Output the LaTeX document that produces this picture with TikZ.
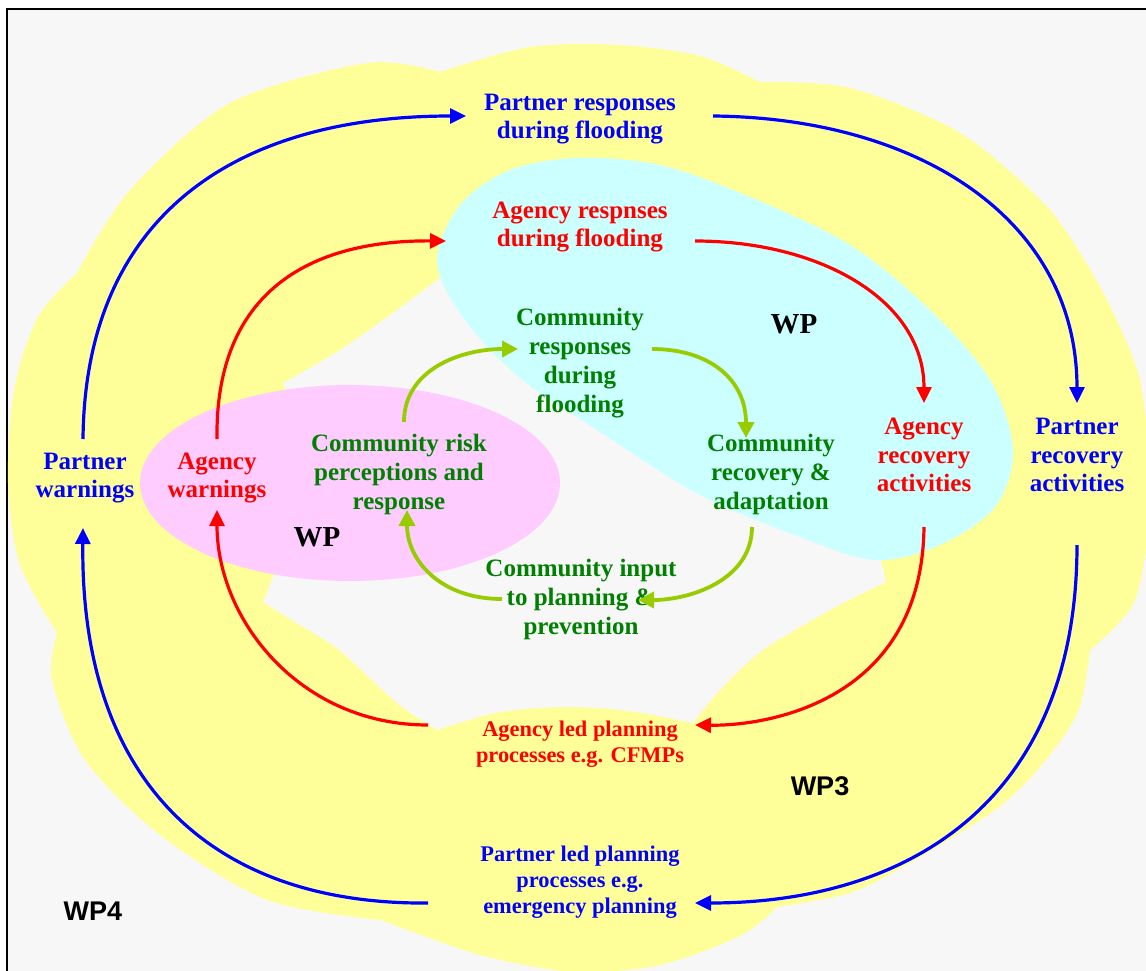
\documentclass[tikz,border=0pt]{standalone}
\usepackage{fontspec}
\setmainfont{Liberation Serif}
\newfontfamily\arialf{Liberation Sans}
\usetikzlibrary{arrows.meta,calc}
\definecolor{yel}{HTML}{FFFF99}
\definecolor{cyn}{HTML}{CCFFFF}
\definecolor{pnk}{HTML}{FFCCFF}
\definecolor{bgc}{HTML}{F7F7F7}
\definecolor{gtext}{HTML}{008000}
\definecolor{garrow}{HTML}{99CC00}
\definecolor{bl}{HTML}{0000FF}
\definecolor{rd}{HTML}{FF0000}
\begin{document}
\begin{tikzpicture}[x=1pt,y=-1pt,
  lbl/.style={align=center, font=\fontsize{25}{28.5}\selectfont\bfseries, inner sep=1pt},
  clbl/.style={align=center, font=\fontsize{25}{29}\selectfont\bfseries, inner sep=1pt, text=gtext},
  smalllbl/.style={align=center, font=\fontsize{22.4}{26}\selectfont\bfseries, inner sep=1pt},
  wpserif/.style={font=\fontsize{29}{32}\selectfont\bfseries, inner sep=0pt},
  wpsans/.style={font=\fontsize{27}{30}\selectfont\arialf\bfseries, inner sep=0pt},
  bluearr/.style={draw=bl, line width=3.2pt, -{Triangle[length=16pt,width=15pt]}},
  redarr/.style={draw=rd, line width=3.2pt, -{Triangle[length=16pt,width=15pt]}},
  greenarr/.style={draw=garrow, line width=3.8pt, -{Triangle[length=16pt,width=16pt]}},
  lobe/.style={smooth,tension=0.5}]
\useasboundingbox (0,0) rectangle (1146,971);
\clip (0,0) rectangle (1146,971);
\fill[white] (0,0) rectangle (1146,971);
\draw[fill=bgc, line width=1.6pt, draw=black] (7,9) rectangle (1170,1000);

% yellow cloud (WP3 / WP4)
\fill[yel] plot[lobe] coordinates {(77,273) (130,190) (230,103) (367,63) (440,72)}
 -- plot[lobe] coordinates {(440,72) (530,47) (620,45) (700,56) (760,82)}
 -- plot[lobe] coordinates {(760,82) (850,88) (960,133) (1050,210) (1103,292)}
 -- plot[lobe] coordinates {(1103,292) (1140,380) (1150,500) (1135,600) (1090,650)}
 -- plot[lobe] coordinates {(1090,650) (1078,712) (1040,767) (995,810) (910,863) (850,893) (777,907)}
 -- plot[lobe] coordinates {(777,907) (740,936) (660,965) (574,972) (480,955) (381,920)}
 -- plot[lobe] coordinates {(381,920) (267,900) (160,835) (85,760) (52,680) (57,633)}
 -- plot[lobe] coordinates {(57,633) (20,565) (8,483) (14,390) (38,317) (77,273)}
 -- cycle;

% grey hole in the middle
\fill[bgc] plot[lobe] coordinates {(283,383) (340,350) (397,310) (437,280)}
 -- (480,262) -- (700,400) -- (870,540)
 -- (880,556) -- (886,582)
 -- plot[lobe] coordinates {(886,582) (830,610) (763,650) (720,690) (693,723)}
 -- plot[lobe] coordinates {(693,723) (630,711) (567,707) (500,712) (437,730)}
 -- plot[lobe] coordinates {(437,730) (397,703) (339,650) (295,622) (263,602)}
 -- (273,577) -- (320,480) -- cycle;

% pink ellipse
\fill[pnk] (350,483) ellipse [x radius=210, y radius=98];
% cyan ellipse
\fill[cyn] plot[smooth cycle,tension=0.55] coordinates {(437,262) (460,205) (510,170) (577,158) (660,165) (750,197) (850,245) (930,310) (990,380) (1013,450) (995,507) (940,545) (875,560) (800,537) (700,495) (600,432) (520,378) (465,320)};

% labels
\node[lbl, text=bl] (prf) at (580,119) {Partner responses\\during flooding};
\node[lbl, text=rd] (arf) at (580,227) {Agency respnses\\during flooding};
\node[clbl] (crf) at (580,363) {Community\\responses\\during\\flooding};
\node[clbl] (crp) at (399,474) {Community risk\\perceptions and\\response};
\node[lbl, text=rd] (aw) at (217,478) {Agency\\warnings};
\node[lbl, text=bl] (pw) at (85,478) {Partner\\warnings};
\node[clbl] (cra) at (771,474) {Community\\recovery \&\\adaptation};
\node[lbl, text=rd] (ara) at (924,455) {Agency\\recovery\\activities};
\node[lbl, text=bl] (pra) at (1077,455) {Partner\\recovery\\activities};
\node[clbl] (cip) at (581,599) {Community input\\to planning \&\\prevention};
\node[smalllbl, text=rd] (alp) at (580,744) {Agency led planning\\processes e.g. CFMPs};
\node[smalllbl, text=bl] (plp) at (580,882) {Partner led planning\\processes e.g.\\emergency planning};

\node[wpserif] (wp2) at (794,324) {WP};
\node[wpserif] (wp1) at (317,537) {WP};
\node[wpsans] (wp3) at (820,786) {WP3};
\node[wpsans] (wp4) at (93,911) {WP4};

% blue loop
\draw[bluearr] ($(pw)+(-2,-39)$) .. controls +(2,-219) and +(-236,0) .. ($(prf)+(-114,-3)$);
\draw[bluearr] ($(prf)+(133,-3)$) .. controls +(207,2) and +(0,-183) .. ($(pra)+(0,-52)$);
\draw[bluearr] ($(pra)+(0,90)$) .. controls +(0,255) and +(215,0) .. ($(plp)+(115,21)$);
\draw[bluearr] ($(plp)+(-152,21)$) .. controls +(-208,2) and +(-3,262) .. ($(pw)+(-2,50)$);

% red loop
\draw[redarr] ($(aw)+(0,-39)$) .. controls +(-2,-139) and +(-146,-1) .. ($(arf)+(-134,14)$);
\draw[redarr] ($(arf)+(115,14)$) .. controls +(125,0) and +(0,-103) .. ($(ara)+(0,-52)$);
\draw[redarr] ($(ara)+(0,72)$) .. controls +(-2,173) and +(75,1) .. ($(alp)+(115,-19)$);
\draw[redarr] ($(alp)+(-152,-19)$) .. controls +(-128,0) and +(0,110) .. ($(aw)+(0,32)$);

% green loop
\draw[greenarr] ($(crp)+(5,-52)$) .. controls +(0,-52) and +(-58,0) .. ($(crf)+(-62,-14)$);
\draw[greenarr] ($(crf)+(72,-14)$) .. controls +(58,0) and +(0,-58) .. ($(cra)+(-25,-36)$);
\draw[greenarr] ($(cra)+(-19,53)$) .. controls +(0,53) and +(52,0) .. ($(cip)+(57,1)$);
\draw[greenarr] ($(cip)+(-79,0)$) .. controls +(-62,0) and +(0,50) .. ($(crp)+(8,36)$);
\end{tikzpicture}
\end{document}
